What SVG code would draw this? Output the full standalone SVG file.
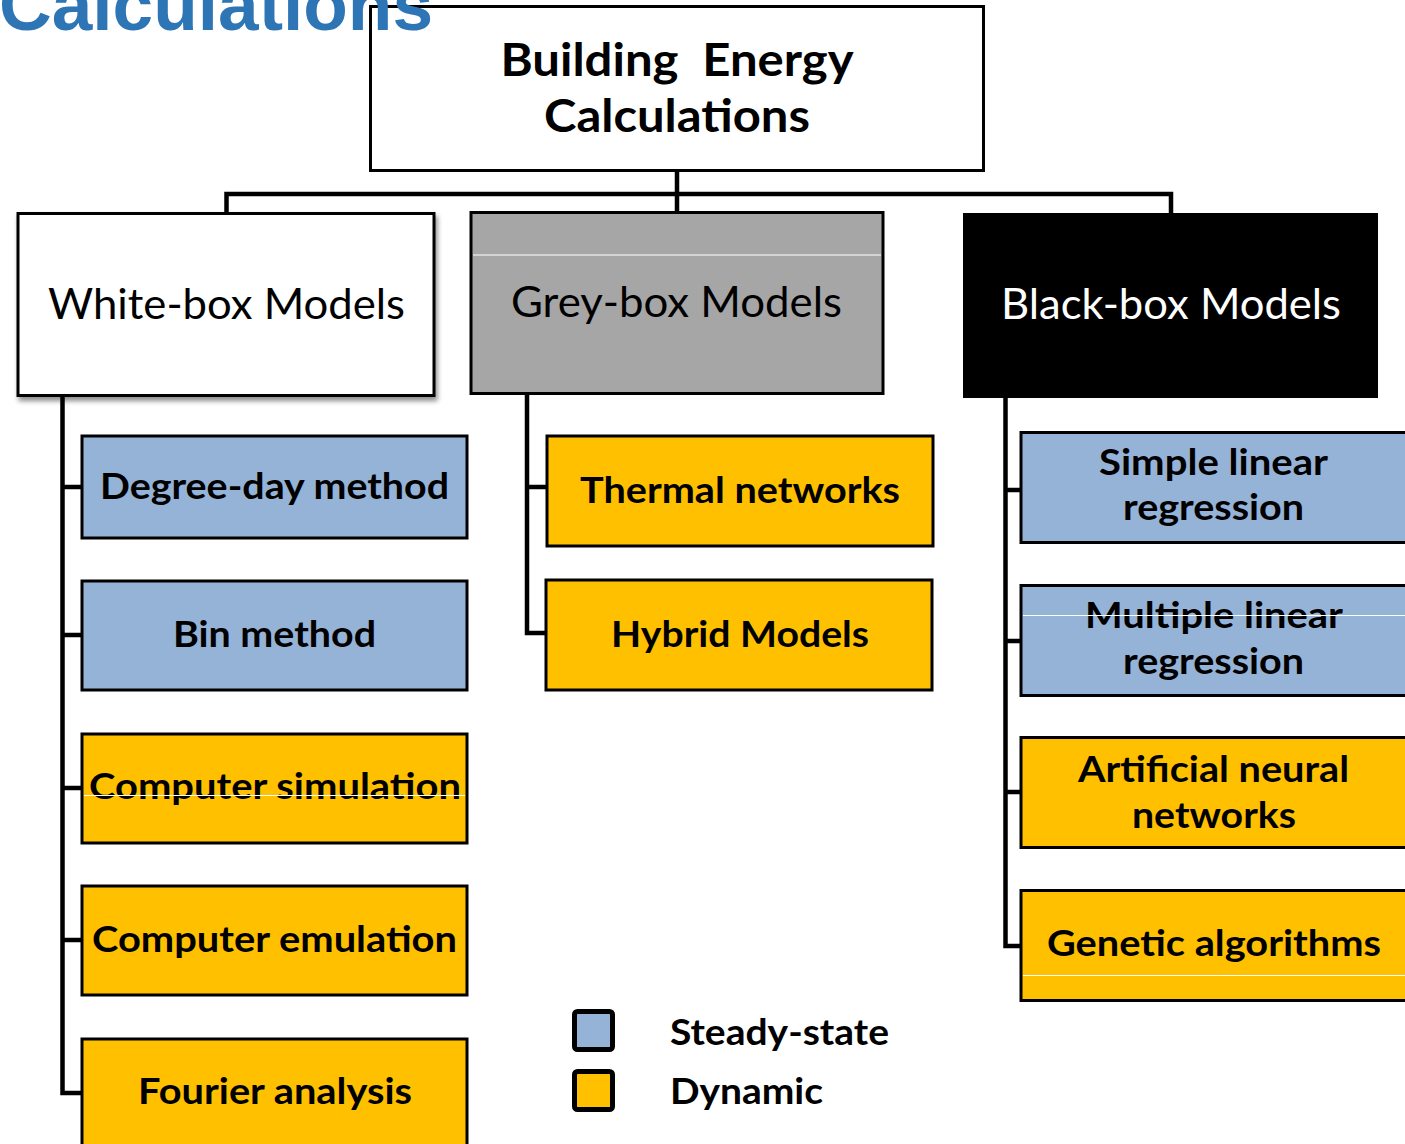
<svg xmlns="http://www.w3.org/2000/svg" width="1405" height="1144" viewBox="0 0 1405 1144">
<style>
.box{stroke:#000;stroke-width:3}
.blue{fill:#95B3D7}
.orange{fill:#FFC000}
.lbl{font-family:Lato,"Open Sans","Liberation Sans",sans-serif;font-weight:bold;font-size:37px;fill:#000;text-anchor:middle}
.model{font-family:Lato,"Open Sans","Liberation Sans",sans-serif;font-size:42px;text-anchor:middle}
.title{font-family:Lato,"Open Sans","Liberation Sans",sans-serif;font-weight:bold;font-size:46.5px;text-anchor:middle;fill:#000}
.conn{stroke:#000;stroke-width:4.5;fill:none;stroke-linejoin:miter;stroke-linecap:square}
.wl{stroke:#fff;stroke-width:1}
.leg{font-family:Lato,"Open Sans","Liberation Sans",sans-serif;font-weight:bold;font-size:37px;fill:#000}
</style>
<defs>
<filter id="shadow" x="-5%" y="-5%" width="115%" height="120%">
<feDropShadow dx="2" dy="4" stdDeviation="2.5" flood-color="#000" flood-opacity="0.45"/>
</filter>
</defs>
<rect width="1405" height="1144" fill="#fff"/>

<g id="connectors">
<path class="conn" d="M677 171 V194 M226.5 213 V194 H1171 V213 M677 194 V212"/>
<path class="conn" d="M62.5 396 V1093 M62.5 487 H82 M62.5 635 H82 M62.5 788 H82 M62.5 940 H82 M62.5 1093 H82"/>
<path class="conn" d="M527 394 V633 H547 M527 487 H547"/>
<path class="conn" d="M1005.5 398 V946 H1021 M1005.5 490 H1021 M1005.5 641 H1021 M1005.5 792 H1021"/>
</g>

<g id="root">
<rect class="box" x="370.5" y="6.5" width="613" height="164" fill="#fff"/>
<text class="title" x="677" y="76" textLength="353" lengthAdjust="spacingAndGlyphs">Building&#160; Energy</text>
<text class="title" x="677" y="132" textLength="266" lengthAdjust="spacingAndGlyphs">Calculations</text>
</g>

<g id="white-box">
<rect class="box" x="18" y="213.5" width="416" height="182" fill="#fff" filter="url(#shadow)"/>
<text class="model" x="226.5" y="319" textLength="357" lengthAdjust="spacingAndGlyphs">White-box Models</text>
</g>
<g id="grey-box">
<rect class="box" x="471" y="212.5" width="412" height="181" fill="#A6A6A6"/>
<line class="wl" x1="473" y1="255" x2="881" y2="255"/>
<text class="model" x="676.5" y="317" textLength="331" lengthAdjust="spacingAndGlyphs">Grey-box Models</text>
</g>
<g id="black-box">
<rect x="963" y="213" width="415" height="185" fill="#000"/>
<text class="model" x="1171" y="319" fill="#fff" textLength="340" lengthAdjust="spacingAndGlyphs">Black-box Models</text>
</g>

<g id="degree-day">
<rect class="box blue" x="82" y="436" width="385" height="102"/>
<text class="lbl" x="274.5" y="499" textLength="349" lengthAdjust="spacingAndGlyphs">Degree-day method</text>
</g>
<g id="bin">
<rect class="box blue" x="82" y="581" width="385" height="109"/>
<text class="lbl" x="274.5" y="647" textLength="203" lengthAdjust="spacingAndGlyphs">Bin method</text>
</g>
<g id="comp-sim">
<rect class="box orange" x="82" y="734" width="385" height="109"/>
<text class="lbl" x="275" y="799" textLength="372" lengthAdjust="spacingAndGlyphs">Computer simulation</text>
<line class="wl" x1="84" y1="795.5" x2="465" y2="795.5"/>
</g>
<g id="comp-emu">
<rect class="box orange" x="82" y="886" width="385" height="109"/>
<text class="lbl" x="274.5" y="952" textLength="365" lengthAdjust="spacingAndGlyphs">Computer emulation</text>
</g>
<g id="fourier">
<rect class="box orange" x="82" y="1039" width="385" height="110"/>
<text class="lbl" x="275" y="1104" textLength="274" lengthAdjust="spacingAndGlyphs">Fourier analysis</text>
</g>

<g id="thermal">
<rect class="box orange" x="547" y="436" width="386" height="110"/>
<text class="lbl" x="740" y="503" textLength="320" lengthAdjust="spacingAndGlyphs">Thermal networks</text>
</g>
<g id="hybrid">
<rect class="box orange" x="546" y="580" width="386" height="110"/>
<text class="lbl" x="740" y="647" textLength="258" lengthAdjust="spacingAndGlyphs">Hybrid Models</text>
</g>

<g id="simple-lr">
<rect class="box blue" x="1021" y="432.5" width="400" height="110"/>
<text class="lbl" x="1213.5" y="475" textLength="229" lengthAdjust="spacingAndGlyphs">Simple linear</text>
<text class="lbl" x="1213.5" y="520" textLength="181" lengthAdjust="spacingAndGlyphs">regression</text>
</g>
<g id="multiple-lr">
<rect class="box blue" x="1021" y="585.5" width="400" height="110"/>
<text class="lbl" x="1214" y="628" textLength="258" lengthAdjust="spacingAndGlyphs">Multiple linear</text>
<line class="wl" x1="1023" y1="615.5" x2="1405" y2="615.5"/>
<text class="lbl" x="1213.5" y="674" textLength="181" lengthAdjust="spacingAndGlyphs">regression</text>
</g>
<g id="ann">
<rect class="box orange" x="1021" y="737.5" width="400" height="110"/>
<text class="lbl" x="1213.5" y="782" textLength="271" lengthAdjust="spacingAndGlyphs">Artificial neural</text>
<text class="lbl" x="1214" y="828" textLength="164" lengthAdjust="spacingAndGlyphs">networks</text>
</g>
<g id="genetic">
<rect class="box orange" x="1021" y="890.5" width="400" height="110"/>
<text class="lbl" x="1214" y="956" textLength="334" lengthAdjust="spacingAndGlyphs">Genetic algorithms</text>
<line class="wl" x1="1023" y1="975.5" x2="1405" y2="975.5"/>
</g>

<g id="legend">
<rect x="574.5" y="1011.5" width="38" height="38" rx="3" fill="#95B3D7" stroke="#000" stroke-width="5"/>
<rect x="574.5" y="1071.5" width="38" height="38" rx="3" fill="#FFC000" stroke="#000" stroke-width="5"/>
<text class="leg" x="670" y="1045" textLength="219" lengthAdjust="spacingAndGlyphs">Steady-state</text>
<text class="leg" x="670" y="1104" textLength="153" lengthAdjust="spacingAndGlyphs">Dynamic</text>
</g>

<text x="-1" y="30" font-family="Liberation Sans, Arial, sans-serif" font-weight="bold" font-size="72" fill="#2E75B6" textLength="434" lengthAdjust="spacingAndGlyphs">Calculations</text>
</svg>
